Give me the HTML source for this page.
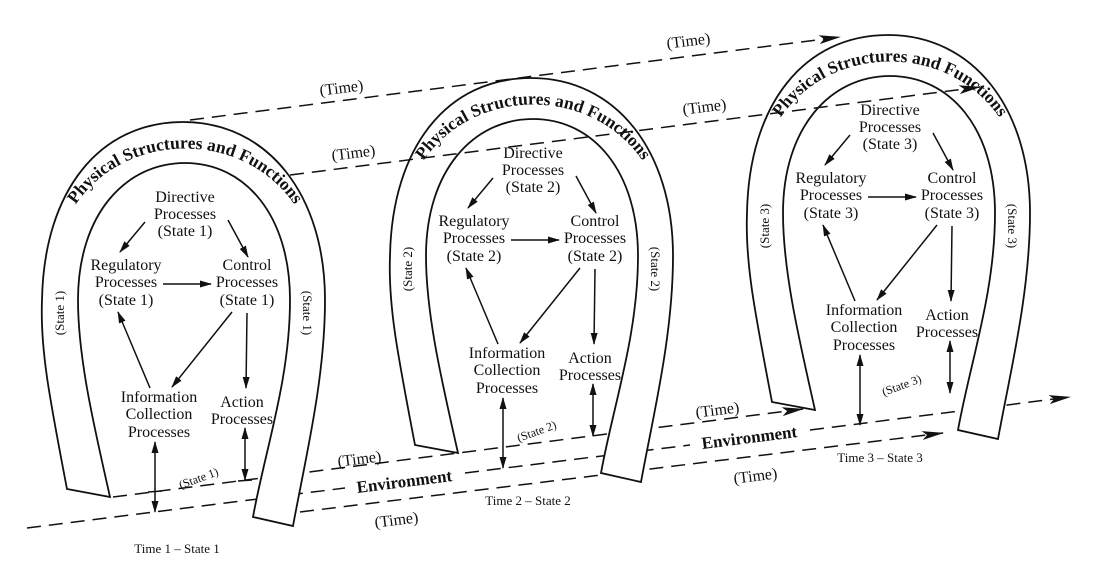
<!DOCTYPE html>
<html><head><meta charset="utf-8"><style>
html,body{margin:0;padding:0;background:#fff;}
svg{display:block;}
text{font-family:"Liberation Serif",serif;fill:#111;}
</style></head><body>
<svg width="1107" height="568" viewBox="0 0 1107 568" xmlns="http://www.w3.org/2000/svg">
<defs>
<marker id="ah" markerUnits="userSpaceOnUse" markerWidth="12" markerHeight="8" refX="11" refY="4" orient="auto-start-reverse"><path d="M0,0.5 L12,4 L0,7.5 Z" fill="#111"/></marker>
<marker id="ahb" markerUnits="userSpaceOnUse" markerWidth="22" markerHeight="10" refX="21" refY="5" orient="auto"><path d="M0,0.5 L22,5 L0,9.5 L5,5 Z" fill="#111"/></marker>
<g id="hs">
<path d="M67,489 C50,400 40,350 42,300 C44,190 100,122 183,122 C268,122 325,195 325,300 C325,380 305,460 293,526 L253,517 C265,450 290,380 290,300 C290,215 245,163 185,163 C125,163 78,215 78,300 C78,360 95,430 110,497 Z" fill="#fff" stroke="#111" stroke-width="1.8"/>
<path id="arc" d="M52,300 C42,98 328,98 318,300" fill="none"/>
</g>
</defs>

<g stroke="#111" stroke-width="1.5" stroke-dasharray="14,8" fill="none">
<line x1="113" y1="497" x2="803" y2="409" marker-end="url(#ahb)"/>
<line x1="27" y1="528" x2="345" y2="488"/>
<line x1="465" y1="473" x2="690" y2="445"/>
<line x1="810" y1="430" x2="1070" y2="397" marker-end="url(#ahb)"/>
<line x1="300" y1="512" x2="943" y2="433" marker-end="url(#ahb)"/>
</g>

<g id="H1">
<use href="#hs"/>
<text font-size="17.5" font-weight="bold"><textPath href="#arc" startOffset="50%" text-anchor="middle">Physical Structures and Functions</textPath></text>
<text font-size="13" transform="translate(64,313) rotate(-90)" text-anchor="middle">(State 1)</text>
<text font-size="13" transform="translate(303,313) rotate(90)" text-anchor="middle">(State 1)</text>
<g font-size="16" text-anchor="middle">
<text x="185" y="202">Directive</text><text x="185" y="219">Processes</text><text x="185" y="236">(State 1)</text>
<text x="126" y="270">Regulatory</text><text x="126" y="287">Processes</text><text x="126" y="305">(State 1)</text>
<text x="247" y="270">Control</text><text x="247" y="287">Processes</text><text x="247" y="305">(State 1)</text>
<text x="159" y="402">Information</text><text x="159" y="419">Collection</text><text x="159" y="437">Processes</text>
<text x="242" y="407">Action</text><text x="242" y="424">Processes</text>
</g>
<text font-size="12" transform="translate(200,482) rotate(-20)" text-anchor="middle">(State 1)</text>
<g stroke="#111" stroke-width="1.5" fill="none">
<line x1="145" y1="222" x2="120" y2="252" marker-end="url(#ah)"/>
<line x1="228" y1="220" x2="248" y2="257" marker-end="url(#ah)"/>
<line x1="163" y1="284" x2="211" y2="284" marker-end="url(#ah)"/>
<line x1="150" y1="388" x2="118" y2="312" marker-end="url(#ah)"/>
<line x1="232" y1="312" x2="172" y2="387" marker-end="url(#ah)"/>
<line x1="247" y1="313" x2="246" y2="388" marker-end="url(#ah)"/>
<line x1="155" y1="442" x2="155" y2="512" marker-start="url(#ah)" marker-end="url(#ah)"/>
<line x1="245" y1="428" x2="245" y2="480" marker-start="url(#ah)" marker-end="url(#ah)"/>
<line x1="148" y1="492" x2="162" y2="491"/>
<line x1="238" y1="481" x2="252" y2="480"/>
</g>
</g>

<g transform="translate(348,-44)">
<use href="#hs"/>
<text font-size="17.5" font-weight="bold"><textPath href="#arc" startOffset="50%" text-anchor="middle">Physical Structures and Functions</textPath></text>
<text font-size="13" transform="translate(64,313) rotate(-90)" text-anchor="middle">(State 2)</text>
<text font-size="13" transform="translate(303,313) rotate(90)" text-anchor="middle">(State 2)</text>
<g font-size="16" text-anchor="middle">
<text x="185" y="202">Directive</text><text x="185" y="219">Processes</text><text x="185" y="236">(State 2)</text>
<text x="126" y="270">Regulatory</text><text x="126" y="287">Processes</text><text x="126" y="305">(State 2)</text>
<text x="247" y="270">Control</text><text x="247" y="287">Processes</text><text x="247" y="305">(State 2)</text>
<text x="159" y="402">Information</text><text x="159" y="419">Collection</text><text x="159" y="437">Processes</text>
<text x="242" y="407">Action</text><text x="242" y="424">Processes</text>
</g>
<text font-size="12" transform="translate(190,479) rotate(-20)" text-anchor="middle">(State 2)</text>
<g stroke="#111" stroke-width="1.5" fill="none">
<line x1="145" y1="222" x2="120" y2="252" marker-end="url(#ah)"/>
<line x1="228" y1="220" x2="248" y2="257" marker-end="url(#ah)"/>
<line x1="163" y1="284" x2="211" y2="284" marker-end="url(#ah)"/>
<line x1="150" y1="388" x2="118" y2="312" marker-end="url(#ah)"/>
<line x1="232" y1="312" x2="172" y2="387" marker-end="url(#ah)"/>
<line x1="247" y1="313" x2="246" y2="388" marker-end="url(#ah)"/>
<line x1="155" y1="442" x2="155" y2="512" marker-start="url(#ah)" marker-end="url(#ah)"/>
<line x1="245" y1="428" x2="245" y2="480" marker-start="url(#ah)" marker-end="url(#ah)"/>
</g>
</g>

<g transform="translate(705,-87)">
<use href="#hs"/>
<text font-size="17.5" font-weight="bold"><textPath href="#arc" startOffset="50%" text-anchor="middle">Physical Structures and Functions</textPath></text>
<text font-size="13" transform="translate(64,313) rotate(-90)" text-anchor="middle">(State 3)</text>
<text font-size="13" transform="translate(303,313) rotate(90)" text-anchor="middle">(State 3)</text>
<g font-size="16" text-anchor="middle">
<text x="185" y="202">Directive</text><text x="185" y="219">Processes</text><text x="185" y="236">(State 3)</text>
<text x="126" y="270">Regulatory</text><text x="126" y="287">Processes</text><text x="126" y="305">(State 3)</text>
<text x="247" y="270">Control</text><text x="247" y="287">Processes</text><text x="247" y="305">(State 3)</text>
<text x="159" y="402">Information</text><text x="159" y="419">Collection</text><text x="159" y="437">Processes</text>
<text x="242" y="407">Action</text><text x="242" y="424">Processes</text>
</g>
<text font-size="12" transform="translate(198,476) rotate(-20)" text-anchor="middle">(State 3)</text>
<g stroke="#111" stroke-width="1.5" fill="none">
<line x1="145" y1="222" x2="120" y2="252" marker-end="url(#ah)"/>
<line x1="228" y1="220" x2="248" y2="257" marker-end="url(#ah)"/>
<line x1="163" y1="284" x2="211" y2="284" marker-end="url(#ah)"/>
<line x1="150" y1="388" x2="118" y2="312" marker-end="url(#ah)"/>
<line x1="232" y1="312" x2="172" y2="387" marker-end="url(#ah)"/>
<line x1="247" y1="313" x2="246" y2="388" marker-end="url(#ah)"/>
<line x1="155" y1="442" x2="155" y2="512" marker-start="url(#ah)" marker-end="url(#ah)"/>
<line x1="245" y1="428" x2="245" y2="480" marker-start="url(#ah)" marker-end="url(#ah)"/>
</g>
</g>

<g stroke="#111" stroke-width="1.5" stroke-dasharray="14,8" fill="none">
<line x1="190" y1="120" x2="840" y2="37" marker-end="url(#ahb)"/>
<line x1="290" y1="175" x2="980" y2="87" marker-end="url(#ahb)"/>
</g>

<g font-size="16">
<text transform="translate(342,93) rotate(-7)" text-anchor="middle">(Time)</text>
<text transform="translate(689,46) rotate(-7)" text-anchor="middle">(Time)</text>
<text transform="translate(354,158) rotate(-7)" text-anchor="middle">(Time)</text>
<text transform="translate(705,112) rotate(-7)" text-anchor="middle">(Time)</text>
<text transform="translate(360,464) rotate(-7)" text-anchor="middle">(Time)</text>
<text transform="translate(718,415) rotate(-7)" text-anchor="middle">(Time)</text>
<text transform="translate(397,525) rotate(-7)" text-anchor="middle">(Time)</text>
<text transform="translate(756,481) rotate(-7)" text-anchor="middle">(Time)</text>
</g>
<g font-size="17" font-weight="bold">
<text transform="translate(405,487) rotate(-7.2)" text-anchor="middle">Environment</text>
<text transform="translate(750,443) rotate(-7.2)" text-anchor="middle">Environment</text>
</g>
<g font-size="13" text-anchor="middle">
<text x="177" y="553">Time 1 – State 1</text>
<text x="528" y="505">Time 2 – State 2</text>
<text x="880" y="462">Time 3 – State 3</text>
</g>
</svg>
</body></html>
